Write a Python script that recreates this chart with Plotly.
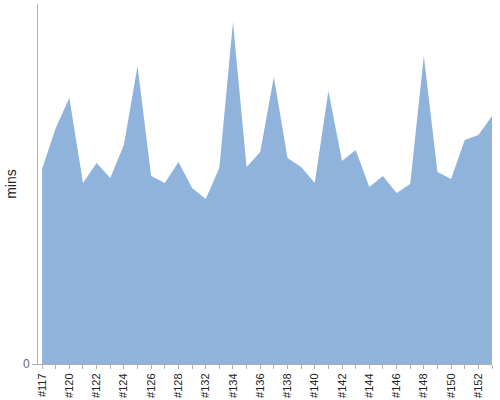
import plotly.graph_objects as go

builds = ["#117", "#119", "#120", "#121", "#122", "#123", "#124", "#125", "#126", "#127",
          "#128", "#131", "#132", "#133", "#134", "#135", "#136", "#137", "#138", "#139",
          "#140", "#141", "#142", "#143", "#144", "#145", "#146", "#147", "#148", "#149",
          "#150", "#151", "#152", "#153"]
minutes = [19.5, 23.6, 26.6, 18.1, 20.1, 18.6, 21.9, 29.8, 18.8, 18.1,
           20.2, 17.6, 16.5, 19.6, 34.2, 19.7, 21.2, 28.7, 20.6, 19.7,
           18.1, 27.3, 20.3, 21.4, 17.7, 18.8, 17.1, 18.0, 30.8, 19.2,
           18.5, 22.4, 22.9, 24.8]
labelled = ["#117", "#120", "#122", "#124", "#126", "#128", "#132", "#134", "#136",
            "#138", "#140", "#142", "#144", "#146", "#148", "#150", "#152"]

fig = go.Figure()
fig.add_trace(go.Scatter(
    x=list(range(len(builds))), y=minutes, mode="lines",
    line=dict(width=0, color="#8FB3DB"), fill="tozeroy", fillcolor="#8FB3DB",
    hoverinfo="skip", showlegend=False))

fig.update_layout(
    width=500, height=400,
    margin=dict(l=38, r=8, t=4, b=36),
    plot_bgcolor="white", paper_bgcolor="white",
    font=dict(family="Liberation Sans, Arial, sans-serif", color="#222"),
    xaxis=dict(
        range=[-0.3, 33.0], automargin=False,
        tickmode="array",
        tickvals=list(range(len(builds))),
        ticktext=[b if b in labelled else "" for b in builds],
        tickangle=-90, tickfont=dict(size=11, color="#222"),
        ticks="outside", ticklen=4, tickcolor="#B0B0B0",
        showline=True, linecolor="#B0B0B0", linewidth=1,
        showgrid=False, zeroline=False),
    yaxis=dict(
        range=[0, 36], automargin=False,
        tickmode="array", tickvals=[0], ticktext=["0"],
        tickfont=dict(size=12, color="#666"),
        ticks="outside", ticklen=5, tickcolor="#B0B0B0",
        showline=True, linecolor="#B0B0B0", linewidth=1,
        showgrid=False, zeroline=False,
        title=dict(text="mins", font=dict(size=14, color="#222"), standoff=3)),
)

fig.write_html("out.html", config={"displayModeBar": False},
               post_script="document.body.style.margin='0';document.body.style.overflow='hidden';")
